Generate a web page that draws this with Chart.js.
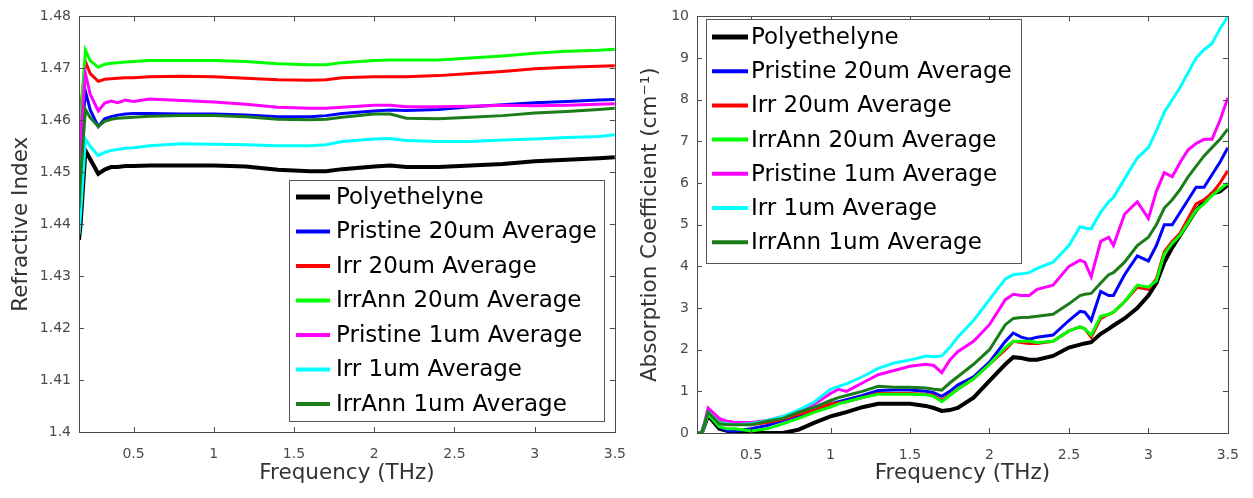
<!DOCTYPE html>
<html>
<head>
<meta charset="utf-8">
<script src="https://cdn.jsdelivr.net/npm/chart.js@4.4.1/dist/chart.umd.min.js"></script>
<style>
  body { margin: 0; background: #fff; width: 1253px; height: 498px; overflow: hidden; position: relative; }
  canvas { position: absolute; top: 0; }
  #indexChart { left: 0; }
  #absChart { left: 626px; }
</style>
</head>
<body>
<canvas id="indexChart" width="640" height="498"></canvas>
<canvas id="absChart" width="627" height="498"></canvas>
<script>
// sample names, in plotting order
const seriesNames = [
  "Polyethelyne", "Pristine 20um Average", "Irr 20um Average", "IrrAnn 20um Average",
  "Pristine 1um Average", "Irr 1um Average", "IrrAnn 1um Average"
];
const seriesColors = ["#000000", "#0000ff", "#ff0000", "#00ff00", "#ff00ff", "#00ffff", "#1a7d1a"];

// refractive index vs frequency (THz)
const nFreq = [0.16, 0.17, 0.2, 0.23, 0.28, 0.32, 0.36, 0.4, 0.45, 0.5, 0.6, 0.8, 1.0, 1.2, 1.4,
  1.6, 1.7, 1.8, 2.0, 2.1, 2.2, 2.4, 2.6, 2.8, 3.0, 3.2, 3.4, 3.5];
const nPoly = [1.437, 1.440, 1.4542, 1.4525, 1.4497, 1.4505, 1.451, 1.451, 1.4512, 1.4512, 1.4513, 1.4513, 1.4513, 1.4511, 1.4505,
  1.4502, 1.4502, 1.4506, 1.4511, 1.4513, 1.451, 1.451, 1.4513, 1.4516, 1.4521, 1.4524, 1.4527, 1.4529];
const nPristine20 = [1.4505, 1.454, 1.4656, 1.462, 1.4588, 1.4603, 1.4607, 1.461, 1.4612, 1.4613, 1.4613, 1.4612, 1.4612, 1.461, 1.4607,
  1.4607, 1.4609, 1.4613, 1.4618, 1.462, 1.4619, 1.4621, 1.4626, 1.463, 1.4634, 1.4636, 1.4639, 1.464];
const nIrr20 = [1.457, 1.462, 1.4713, 1.469, 1.4675, 1.4679, 1.468, 1.4681, 1.4682, 1.4682, 1.4684, 1.4685, 1.4684, 1.4681, 1.4678,
  1.4677, 1.4678, 1.4682, 1.4684, 1.4684, 1.4684, 1.4686, 1.469, 1.4694, 1.4699, 1.4702, 1.4704, 1.4705];
const nIrrAnn20 = [1.443, 1.46, 1.4735, 1.4715, 1.4702, 1.4708, 1.471, 1.4711, 1.4712, 1.4713, 1.4715, 1.4715, 1.4715, 1.4713, 1.4709,
  1.4707, 1.4707, 1.4711, 1.4715, 1.4716, 1.4716, 1.4716, 1.472, 1.4724, 1.4729, 1.4733, 1.4735, 1.4737];
const nPristine1 = [1.4525, 1.457, 1.469, 1.465, 1.4618, 1.4633, 1.4637, 1.4634, 1.4639, 1.4636, 1.4641, 1.4638, 1.4635, 1.4631, 1.4625,
  1.4623, 1.4623, 1.4625, 1.4629, 1.4629, 1.4626, 1.4626, 1.4627, 1.4629, 1.4628, 1.4629, 1.4631, 1.4632];
const nIrr1 = [1.438, 1.442, 1.4564, 1.455, 1.4532, 1.4538, 1.4542, 1.4544, 1.4546, 1.4547, 1.4551, 1.4555, 1.4554, 1.4553, 1.4551,
  1.4551, 1.4553, 1.4559, 1.4564, 1.4565, 1.4561, 1.4559, 1.4559, 1.4562, 1.4564, 1.4567, 1.4569, 1.4572];
const nIrrAnn1 = [1.443, 1.449, 1.4621, 1.4605, 1.4588, 1.4598, 1.4602, 1.4604, 1.4605, 1.4606, 1.4608, 1.4609, 1.4609, 1.4607, 1.4602,
  1.4601, 1.4602, 1.4606, 1.4612, 1.4612, 1.4604, 1.4603, 1.4606, 1.4609, 1.4614, 1.4617, 1.4621, 1.4623];

// absorption coefficient (cm^-1) vs frequency (THz)
const aFreq = [0.16, 0.19, 0.23, 0.3, 0.35, 0.4, 0.5, 0.6, 0.7, 0.8, 0.9, 1.0, 1.05, 1.1, 1.2, 1.3, 1.4, 1.5, 1.6, 1.65,
  1.7, 1.75, 1.8, 1.9, 2.0, 2.1, 2.15, 2.2, 2.25, 2.3, 2.4, 2.5, 2.57, 2.6, 2.64, 2.7, 2.75, 2.78, 2.85, 2.93,
  3.0, 3.05, 3.1, 3.15, 3.2, 3.25, 3.3, 3.35, 3.4, 3.45, 3.5];
const aPoly = [0, 0, 0.42, 0.1, 0.05, 0.0, 0.0, 0.0, 0.0, 0.08, 0.25, 0.4, 0.45, 0.5, 0.62, 0.7, 0.7, 0.7, 0.65, 0.6,
  0.53, 0.55, 0.6, 0.85, 1.25, 1.65, 1.82, 1.8, 1.76, 1.76, 1.85, 2.05, 2.12, 2.15, 2.18, 2.38, 2.5, 2.58, 2.75, 3.0,
  3.3, 3.6, 4.1, 4.45, 4.75, 5.05, 5.35, 5.55, 5.75, 5.8, 5.95];
const aPristine20 = [0, 0, 0.45, 0.15, 0.05, 0.05, 0.1, 0.18, 0.3, 0.42, 0.55, 0.7, 0.75, 0.8, 0.9, 1.02, 1.03, 1.03, 1.0, 0.97,
  0.88, 1.0, 1.15, 1.35, 1.7, 2.2, 2.4, 2.3, 2.25, 2.3, 2.35, 2.7, 2.92, 2.9, 2.7, 3.4, 3.3, 3.3, 3.8, 4.25,
  4.13, 4.5, 5.0, 5.0, 5.3, 5.6, 5.9, 5.9, 6.2, 6.5, 6.85];
const aIrr20 = [0, 0, 0.45, 0.3, 0.27, 0.25, 0.2, 0.25, 0.33, 0.45, 0.55, 0.7, 0.72, 0.75, 0.85, 0.95, 0.95, 0.95, 0.93, 0.9,
  0.78, 0.92, 1.05, 1.3, 1.65, 2.0, 2.2, 2.17, 2.15, 2.15, 2.2, 2.45, 2.55, 2.5, 2.3, 2.75, 2.85, 2.9, 3.15, 3.5,
  3.45, 3.7, 4.35, 4.6, 4.8, 5.15, 5.5, 5.6, 5.75, 6.0, 6.3];
const aIrrAnn20 = [0, 0, 0.45, 0.15, 0.1, 0.1, 0.05, 0.1, 0.22, 0.35, 0.5, 0.62, 0.7, 0.75, 0.85, 0.93, 0.93, 0.93, 0.92, 0.88,
  0.75, 0.9, 1.05, 1.3, 1.65, 2.05, 2.2, 2.2, 2.2, 2.17, 2.2, 2.45, 2.55, 2.5, 2.35, 2.8, 2.85, 2.9, 3.15, 3.55,
  3.5, 3.65, 4.3, 4.55, 4.75, 5.05, 5.35, 5.5, 5.7, 5.85, 6.0];
const aPristine1 = [0, 0, 0.6, 0.35, 0.28, 0.25, 0.25, 0.3, 0.4, 0.52, 0.7, 0.95, 1.05, 1.0, 1.2, 1.4, 1.5, 1.6, 1.65, 1.62,
  1.45, 1.75, 1.95, 2.2, 2.6, 3.2, 3.33, 3.3, 3.3, 3.45, 3.55, 4.0, 4.15, 4.1, 3.75, 4.6, 4.7, 4.5, 5.25, 5.55,
  5.15, 5.8, 6.25, 6.15, 6.5, 6.8, 6.95, 7.05, 7.05, 7.5, 8.05];
const aIrr1 = [0, 0, 0.5, 0.25, 0.22, 0.2, 0.22, 0.3, 0.4, 0.55, 0.75, 1.05, 1.12, 1.18, 1.35, 1.55, 1.68, 1.75, 1.85, 1.83,
  1.85, 2.05, 2.3, 2.7, 3.2, 3.7, 3.8, 3.82, 3.85, 3.95, 4.1, 4.5, 4.95, 4.92, 4.9, 5.3, 5.55, 5.65, 6.1, 6.6,
  6.85, 7.25, 7.7, 8.0, 8.3, 8.65, 9.0, 9.2, 9.35, 9.7, 10.0];
const aIrrAnn1 = [0, 0, 0.5, 0.22, 0.2, 0.2, 0.2, 0.28, 0.35, 0.5, 0.62, 0.78, 0.85, 0.9, 1.0, 1.12, 1.1, 1.1, 1.08, 1.05,
  1.03, 1.2, 1.35, 1.65, 2.0, 2.6, 2.75, 2.77, 2.78, 2.8, 2.85, 3.1, 3.3, 3.33, 3.35, 3.6, 3.8, 3.85, 4.1, 4.5,
  4.7, 5.0, 5.4, 5.6, 5.85, 6.15, 6.4, 6.65, 6.85, 7.05, 7.3];

// tick labels
const freqTicks = [0.5, 1, 1.5, 2, 2.5, 3, 3.5];
const freqTickLabels = ["0.5", "1", "1.5", "2", "2.5", "3", "3.5"];
const nTicks = [1.4, 1.41, 1.42, 1.43, 1.44, 1.45, 1.46, 1.47, 1.48];
const nTickLabels = ["1.4", "1.41", "1.42", "1.43", "1.44", "1.45", "1.46", "1.47", "1.48"];
const aTicks = [0, 1, 2, 3, 4, 5, 6, 7, 8, 9, 10];
const aTickLabels = ["0", "1", "2", "3", "4", "5", "6", "7", "8", "9", "10"];

const FONT = "'DejaVu Sans', 'Liberation Sans', Arial, sans-serif";
const AXIS_GRAY = "#4a4a4a";

// box around the plot area with inward tick marks on all four sides
const boxAxes = {
  id: "boxAxes",
  afterDatasetsDraw(chart) {
    const {ctx, chartArea: a, scales} = chart;
    const len = 5;
    ctx.save();
    ctx.strokeStyle = AXIS_GRAY;
    ctx.lineWidth = 1;
    ctx.beginPath();
    scales.x.ticks.forEach(t => {
      const px = Math.round(scales.x.getPixelForValue(t.value)) + 0.5;
      ctx.moveTo(px, a.bottom); ctx.lineTo(px, a.bottom - len);
      ctx.moveTo(px, a.top); ctx.lineTo(px, a.top + len);
    });
    scales.y.ticks.forEach(t => {
      const py = Math.round(scales.y.getPixelForValue(t.value)) + 0.5;
      ctx.moveTo(a.left, py); ctx.lineTo(a.left + len, py);
      ctx.moveTo(a.right, py); ctx.lineTo(a.right - len, py);
    });
    ctx.stroke();
    ctx.strokeRect(Math.round(a.left) + 0.5, Math.round(a.top) + 0.5,
      Math.round(a.right - a.left), Math.round(a.bottom - a.top));
    ctx.restore();
  }
};

// framed legend placed inside the plot area
const boxLegend = {
  id: "boxLegend",
  afterDraw(chart, args, o) {
    const {ctx} = chart;
    ctx.save();
    ctx.fillStyle = "#ffffff";
    ctx.fillRect(o.x, o.y, o.w, o.h);
    ctx.strokeStyle = "#555555";
    ctx.lineWidth = 1;
    ctx.strokeRect(o.x + 0.5, o.y + 0.5, o.w, o.h);
    ctx.font = o.fontSize + "px " + FONT;
    ctx.textBaseline = "middle";
    ctx.textAlign = "left";
    chart.data.datasets.forEach((ds, i) => {
      const cy = o.y + o.first + i * o.row;
      ctx.strokeStyle = ds.borderColor;
      ctx.lineWidth = ds.borderWidth + 1;
      ctx.beginPath();
      ctx.moveTo(o.x + o.line0, cy);
      ctx.lineTo(o.x + o.line1, cy);
      ctx.stroke();
      ctx.fillStyle = "#000000";
      ctx.fillText(ds.label, o.x + o.text, cy + 1);
    });
    ctx.restore();
  }
};

function makePanel(id, freq, series, y, legendBox) {
  const datasets = series.map((vals, i) => ({
    label: seriesNames[i],
    data: vals.map((v, k) => ({x: freq[k], y: v})),
    borderColor: seriesColors[i],
    borderWidth: i === 0 ? 4 : 3,
    pointRadius: 0,
    tension: 0,
    order: series.length - i
  }));
  return new Chart(document.getElementById(id), {
    type: "line",
    data: {datasets},
    options: {
      responsive: false,
      animation: false,
      events: [],
      layout: {padding: y.padding},
      plugins: {
        legend: {display: false},
        tooltip: {enabled: false},
        boxLegend: legendBox
      },
      scales: {
        x: {
          type: "linear",
          min: 0.16,
          max: 3.5,
          afterBuildTicks: s => { s.ticks = freqTicks.map(v => ({value: v})); },
          afterFit: s => { s.height = y.xHeight; },
          grid: {display: false, drawTicks: false},
          border: {display: false},
          ticks: {
            autoSkip: false,
            maxRotation: 0,
            padding: 14,
            color: AXIS_GRAY,
            font: {family: FONT, size: 14},
            callback: (v, i) => freqTickLabels[i]
          },
          title: {
            display: true,
            text: "Frequency (THz)",
            color: "#333333",
            font: {family: FONT, size: 21.5},
            padding: {top: 0, bottom: 12}
          }
        },
        y: {
          min: y.min,
          max: y.max,
          afterBuildTicks: s => { s.ticks = y.ticks.map(v => ({value: v})); },
          afterFit: s => { s.width = y.width; },
          grid: {display: false, drawTicks: false},
          border: {display: false},
          ticks: {
            autoSkip: false,
            padding: 8,
            color: AXIS_GRAY,
            font: {family: FONT, size: 14},
            callback: (v, i) => y.labels[i]
          },
          title: {
            display: true,
            text: y.title,
            color: "#333333",
            font: {family: FONT, size: 21.5},
            padding: {top: y.titlePad, bottom: 0}
          }
        }
      }
    },
    plugins: [boxAxes, boxLegend]
  });
}

makePanel("indexChart", nFreq,
  [nPoly, nPristine20, nIrr20, nIrrAnn20, nPristine1, nIrr1, nIrrAnn1],
  {min: 1.4, max: 1.48, ticks: nTicks, labels: nTickLabels, title: "Refractive Index",
   width: 79, xHeight: 66, titlePad: 9, padding: {top: 13, right: 25, left: 0, bottom: 0}},
  {x: 289, y: 180, w: 315, h: 241, first: 17, row: 34.5, line0: 7, line1: 41, text: 47, fontSize: 23});

makePanel("absChart", aFreq,
  [aPoly, aPristine20, aIrr20, aIrrAnn20, aPristine1, aIrr1, aIrrAnn1],
  {min: 0, max: 10, ticks: aTicks, labels: aTickLabels, title: "Absorption Coefficient (cm\u207B\u00B9)",
   width: 71, xHeight: 65, titlePad: 12, padding: {top: 13, right: 20, left: 0, bottom: 0}},
  {x: 80, y: 19, w: 315, h: 244, first: 18, row: 34.2, line0: 6, line1: 42, text: 45, fontSize: 23});
</script>
</body>
</html>
